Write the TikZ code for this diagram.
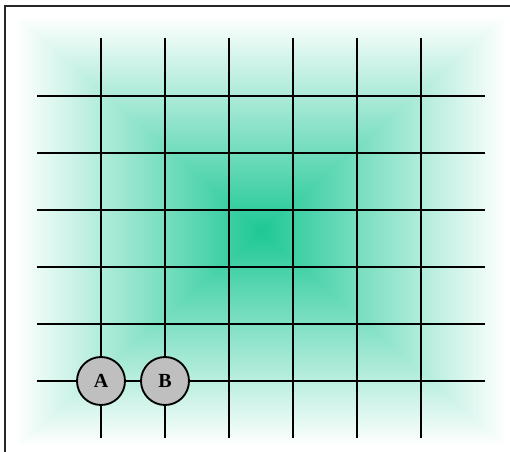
\documentclass[tikz,border=0pt]{standalone}
\usepackage{fontspec}
\setmainfont{Liberation Serif}
\usepackage{tikz}

% square "pyramid" fade from a green centre to white
\pgfdeclarefunctionalshading{greenpyramid}{\pgfpoint{-50bp}{-50bp}}{\pgfpoint{50bp}{50bp}}{}{
  abs exch abs 2 copy lt {exch} if pop 25 div dup 1 gt {pop 1} if
  1 exch sub
  dup 0.882 mul 1 exch sub exch
  dup 0.216 mul 1 exch sub exch
  0.412 mul 1 exch sub}

\tikzset{
  gridline/.style={line width=2.1pt,black},
  stone/.style={circle,draw=black,fill=gray!50,line width=1.4pt,
    minimum size=36pt,inner sep=0pt,font=\fontsize{15}{17}\selectfont\bfseries},
}

\begin{document}
\begin{tikzpicture}[x=0.75pt,y=-0.75pt]
  \useasboundingbox (0,0) rectangle (510,452);
  \clip (0,0) rectangle (510,452);
  \shade[shading=greenpyramid] (16,16) rectangle (506,446);
  \draw[black!85,line width=1.5pt] (5,6) rectangle (520,470);
  \foreach \i in {0,...,5} {
    \draw[gridline] (101+64*\i,38) -- (101+64*\i,438);
    \draw[gridline] (37,96+57*\i) -- (485,96+57*\i);
  }
  \node[stone] (A) at (101,381) {A};
  \node[stone] (B) at (165,381) {B};
\end{tikzpicture}
\end{document}
